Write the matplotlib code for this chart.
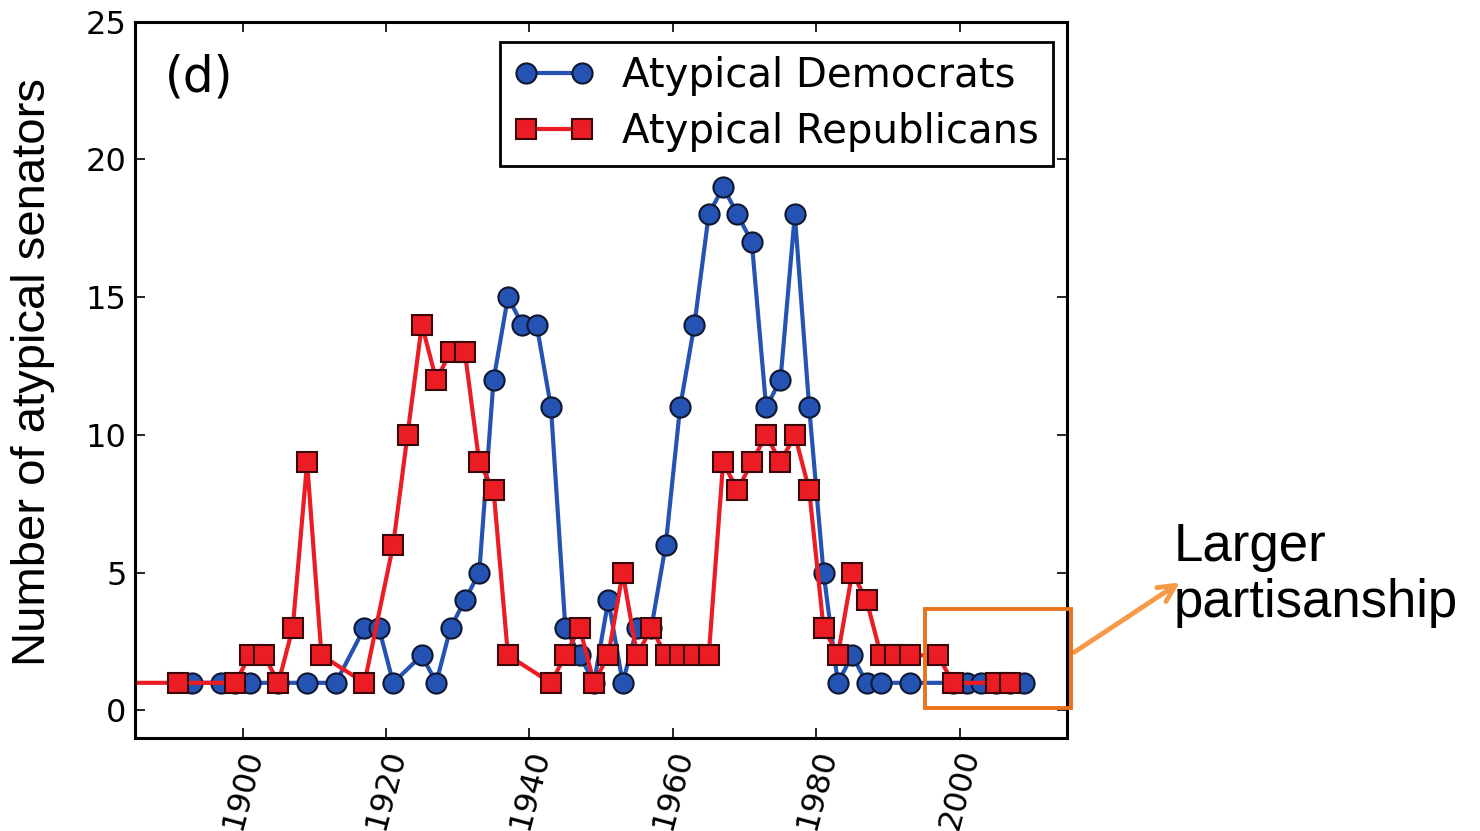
import matplotlib
matplotlib.use("Agg")
import matplotlib.pyplot as plt
from matplotlib.patches import Rectangle

# data (one point per Congress)
dem_years = [1893, 1897, 1899, 1901, 1905, 1909, 1913, 1917, 1919, 1921, 1925, 1927,
             1929, 1931, 1933, 1935, 1937, 1939, 1941, 1943, 1945, 1947, 1949, 1951,
             1953, 1955, 1957, 1959, 1961, 1963, 1965, 1967, 1969, 1971, 1973, 1975,
             1977, 1979, 1981, 1983, 1985, 1987, 1989, 1993, 1999, 2001, 2003, 2005,
             2007, 2009]
dem_counts = [1, 1, 1, 1, 1, 1, 1, 3, 3, 1, 2, 1,
              3, 4, 5, 12, 15, 14, 14, 11, 3, 2, 1, 4,
              1, 3, 3, 6, 11, 14, 18, 19, 18, 17, 11, 12,
              18, 11, 5, 1, 2, 1, 1, 1, 1, 1, 1, 1,
              1, 1]

rep_years = [1883, 1891, 1899, 1901, 1903, 1905, 1907, 1909, 1911, 1917, 1921, 1923,
             1925, 1927, 1929, 1931, 1933, 1935, 1937, 1943, 1945, 1947, 1949, 1951,
             1953, 1955, 1957, 1959, 1961, 1963, 1965, 1967, 1969, 1971, 1973, 1975,
             1977, 1979, 1981, 1983, 1985, 1987, 1989, 1991, 1993, 1997, 1999, 2005,
             2007]
rep_counts = [1, 1, 1, 2, 2, 1, 3, 9, 2, 1, 6, 10,
              14, 12, 13, 13, 9, 8, 2, 1, 2, 3, 1, 2,
              5, 2, 3, 2, 2, 2, 2, 9, 8, 9, 10, 9,
              10, 8, 3, 2, 5, 4, 2, 2, 2, 2, 1, 1,
              1]

x_ticks = [1900, 1920, 1940, 1960, 1980, 2000]
y_ticks = [0, 5, 10, 15, 20, 25]

blue = "#2553b3"
red = "#ec1c24"

fig = plt.figure(figsize=(14.8, 8.31), dpi=100)
ax = fig.add_axes([0.0912, 0.112, 0.630, 0.862])

ax.plot(dem_years, dem_counts, "-o", color=blue, lw=3, ms=14.5,
        mfc=blue, mec="#101830", mew=1.5, label="Atypical Democrats")
ax.plot(rep_years, rep_counts, "-s", color=red, lw=3, ms=14.5,
        mfc=red, mec="#3a0808", mew=1.5, label="Atypical Republicans")

ax.set_xlim(1885, 2015)
ax.set_ylim(-1, 25)
ax.set_xticks(x_ticks)
ax.set_xticklabels([str(t) for t in x_ticks], rotation=75, ha="center")
ax.set_yticks(y_ticks)
ax.tick_params(direction="in", top=True, right=True, length=7, width=1.2,
               labelsize=23, pad=6)
for sp in ax.spines.values():
    sp.set_linewidth(2.2)

ax.set_ylabel("Number of atypical senators", fontsize=34,
              family=["Liberation Sans", "DejaVu Sans"])
ax.yaxis.set_label_coords(-0.086, 0.511)

ax.text(0.032, 0.922, "(d)", transform=ax.transAxes, fontsize=35, va="center")

leg = ax.legend(loc="upper right", fontsize=29, fancybox=False, framealpha=1,
                edgecolor="black", borderpad=0.35, handlelength=2.0,
                numpoints=2, labelspacing=0.4, handletextpad=0.7,
                borderaxespad=0, bbox_to_anchor=(0.985, 0.972))
leg.get_frame().set_linewidth(2)

# highlight box and arrow
box_x0, box_x1 = 1995.1, 2015.5
box_y0, box_y1 = 0.1, 3.67
ax.add_patch(Rectangle((box_x0, box_y0), box_x1 - box_x0, box_y1 - box_y0,
                       fill=False, ec="#e8731c", lw=2.8, clip_on=False, zorder=5))
ax.annotate("", xy=(2031.0, 4.7), xytext=(2015.6, 2.05),
            arrowprops=dict(arrowstyle="->", color="#f59a48", lw=3.5,
                            mutation_scale=30),
            annotation_clip=False)

fig.text(0.793, 0.308, "Larger\npartisanship", fontsize=38, va="center",
         ha="left", family=["Liberation Sans", "DejaVu Sans"], linespacing=1.15)

fig.savefig("out.png", dpi=100)
